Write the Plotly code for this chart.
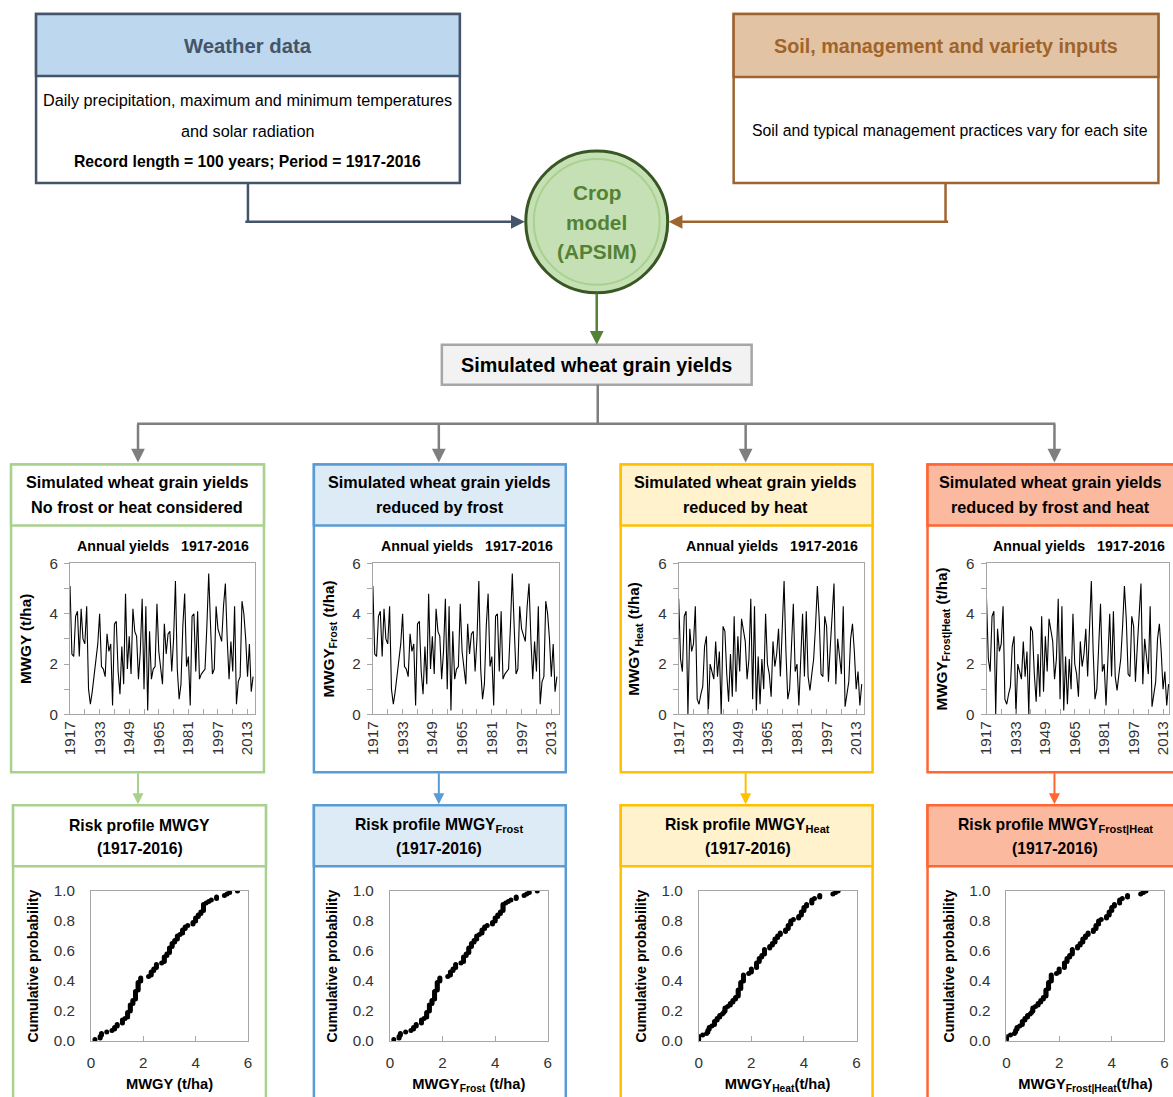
import plotly.graph_objects as go

W, H = 1173, 1097
FONT = "Liberation Sans, Arial, sans-serif"

years = list(range(1917, 2017))
yield_base = [5.1, 2.4, 2.3, 3.9, 4.1, 2.3, 4.2, 3.0, 2.8, 4.3,
              1.0, 0.4, 0.9, 1.5, 2.2, 2.8, 4.0, 1.9, 1.8, 1.5,
              3.2, 2.5, 2.8, 0.35, 3.6, 3.7, 1.7, 0.8, 2.7, 1.2,
              4.8, 1.8, 3.1, 1.6, 4.2, 3.3, 3.1, 1.4, 2.5, 4.6,
              1.0, 4.3, 0.15, 3.3, 1.4, 1.8, 1.9, 4.4, 2.5, 1.7,
              1.2, 3.6, 2.4, 3.2, 3.3, 1.7, 3.0, 5.3, 1.8, 0.6,
              1.2, 3.5, 4.8, 1.9, 2.3, 0.35, 3.9, 4.0, 1.7, 4.1,
              1.4, 1.6, 1.7, 1.8, 3.5, 5.6, 3.5, 1.6, 1.8, 4.3,
              3.4, 3.1, 2.9, 4.3, 5.2, 3.0, 1.4, 2.9, 1.7, 4.3,
              0.4, 1.3, 1.5, 4.5, 4.0, 3.0, 1.5, 2.8, 0.9, 1.5]
yield_heat = [4.6, 2.2, 1.7, 3.9, 4.1, 0.0, 3.4, 2.5, 2.8, 4.3,
              0.6, 0.4, 0.8, 1.1, 2.7, 3.1, 0.0, 2.0, 1.7, 1.4,
              2.9, 1.5, 2.5, 0.0, 3.5, 3.3, 1.6, 0.5, 2.4, 0.7,
              3.9, 0.9, 3.1, 1.7, 3.8, 3.4, 2.9, 1.4, 2.2, 4.6,
              0.6, 4.3, 0.15, 2.3, 0.4, 2.2, 1.0, 4.0, 2.0, 1.6,
              0.7, 2.9, 1.9, 2.4, 3.4, 1.5, 3.3, 5.3, 2.5, 0.6,
              1.0, 2.8, 4.4, 1.7, 2.0, 0.35, 2.3, 4.0, 1.5, 4.1,
              1.5, 0.95, 1.6, 2.2, 3.5, 5.1, 3.8, 1.6, 1.5, 3.9,
              3.5, 1.3, 2.7, 4.0, 5.2, 1.2, 3.0, 2.3, 1.6, 4.3,
              0.3, 0.8, 1.3, 3.0, 3.6, 2.5, 1.0, 1.7, 0.35, 1.2]
# scenario series: no frost/heat, frost, heat, frost|heat
series = [yield_base, yield_base, yield_heat, yield_heat]
subs = ["", "<sub>Frost</sub>", "<sub>Heat</sub>", "<sub>Frost|Heat</sub>"]
col_titles = [["Simulated wheat grain yields", "No frost or heat considered"],
              ["Simulated wheat grain yields", "reduced by frost"],
              ["Simulated wheat grain yields", "reduced by heat"],
              ["Simulated wheat grain yields", "reduced by frost and heat"]]
year_ticks = list(range(1917, 2017, 16))
prob_ticks = [0.0, 0.2, 0.4, 0.6, 0.8, 1.0]

# page -> figure coordinate mapping (page is shown with an 8px body margin, then scaled)
SX, SY, OFF = 0.9895, 1097 / 1113, 8
def fx(p): return p / SX - OFF
def fy(p): return p / SY - OFF
def X(p): return fx(p) / W
def Y(p): return 1 - fy(p) / H
def fs(s): return s / SY

fig = go.Figure()
shapes = []
ann = []

def rect(x0, y0, x1, y1, line, fill="white", lw=2):
    shapes.append(dict(type="rect", xref="paper", yref="paper", x0=X(x0), x1=X(x1),
                       y0=Y(y1), y1=Y(y0), line=dict(color=line, width=lw), fillcolor=fill, layer="below"))

def line(x0, y0, x1, y1, color, lw=2):
    shapes.append(dict(type="line", xref="paper", yref="paper", x0=X(x0), x1=X(x1),
                       y0=Y(y0), y1=Y(y1), line=dict(color=color, width=lw)))

def arrow(x0, y0, x1, y1, color, lw=2):
    ann.append(dict(x=X(x1), y=Y(y1), ax=fx(x0) - fx(x1), ay=fy(y0) - fy(y1), xref="paper", yref="paper",
                    axref="pixel", ayref="pixel", showarrow=True, arrowhead=2, arrowsize=1.1,
                    arrowwidth=lw, arrowcolor=color, text=""))

def text(x, y, s, size, color="black", bold=False, xanchor="center"):
    if bold:
        s = "<b>" + s + "</b>"
    ann.append(dict(x=X(x), y=Y(y), xref="paper", yref="paper", text=s, showarrow=False,
                    xanchor=xanchor, yanchor="middle", font=dict(family=FONT, size=fs(size), color=color)))

def dom(p0, p1, r0, r1):
    # horizontal domain with clamping; range end adjusted to keep the same scale
    a, b = X(p0), X(p1)
    if b > 1:
        r1 = r0 + (r1 - r0) * (1 - a) / (b - a)
        b = 1
    return [max(a, 0), b], [r0, r1]

# Weather box
rect(35, 13, 459, 182, "#44546A", "white", 2.5)
rect(35, 13, 459, 75, "#44546A", "#BDD7EE", 2.5)
text(247, 45, "Weather data", 20, "#44546A", True)
text(247, 99, "Daily precipitation, maximum and minimum temperatures", 16)
text(247, 130, "and solar radiation", 16)
text(247, 161, "Record length = 100 years; Period = 1917-2016", 15.5, bold=True)

# Soil box
rect(733, 13, 1158, 182, "#9E6430", "white", 2.5)
rect(733, 13, 1158, 76, "#9E6430", "#E2C3A3", 2.5)
text(945, 45, "Soil, management and variety inputs", 19.5, "#A0642A", True)
text(949, 130, "Soil and typical management practices vary for each site", 15.6)

# connectors to crop model
line(247, 182, 247, 221, "#44546A", 2.5)
arrow(246, 221, 524, 221, "#44546A", 2.5)
line(945, 182, 945, 221, "#9E6430", 2.5)
arrow(946, 221, 668, 221, "#9E6430", 2.5)

# circle
cx, cy, r = 596, 221, 71
shapes.append(dict(type="circle", xref="paper", yref="paper", x0=X(cx - r), x1=X(cx + r),
                   y0=Y(cy + r), y1=Y(cy - r), line=dict(color="#385723", width=3), fillcolor="#C5E0B4"))
r2 = 63
shapes.append(dict(type="circle", xref="paper", yref="paper", x0=X(cx - r2), x1=X(cx + r2),
                   y0=Y(cy + r2), y1=Y(cy - r2), line=dict(color="#A9D18E", width=2), fillcolor="rgba(0,0,0,0)"))
text(596, 192, "Crop", 20.5, "#548235", True)
text(596, 222, "model", 20.5, "#548235", True)
text(596, 251, "(APSIM)", 20.5, "#548235", True)
arrow(596, 292, 596, 344, "#548235", 2.5)

# simulated yields box
rect(441, 344, 751, 384, "#A6A6A6", "#F2F2F2", 2.5)
text(596, 364, "Simulated wheat grain yields", 19.5, bold=True)
line(597, 384, 597, 423, "#7F7F7F", 2.5)
line(136, 423, 1055, 423, "#7F7F7F", 2.5)

col_left = [10, 313, 620, 927]
col_right = [263, 565, 872, 1190]
risk_left = [12, 313, 620, 927]
risk_right = [265, 565, 872, 1190]
col_arrow_x = [137, 438, 745, 1054]
borders = ["#A9D18E", "#5B9BD5", "#FFC000", "#FF6633"]
fills = ["white", "#DDEBF7", "#FFF2CC", "#FBB9A0"]
ts_x = [(69, 254), (372, 558), (678, 863), (986, 1170)]
cdf_x = [(90, 247), (389, 547), (698, 856), (1006, 1164)]
head_c = [136, 439, 745, 1050]

layout_axes = {}
for i in range(4):
    L, R = col_left[i], col_right[i]
    ax_x = col_arrow_x[i]
    arrow(ax_x, 423, ax_x, 462, "#7F7F7F", 2.5)
    rect(L, 464, R, 772, borders[i], "white", 2.5)
    rect(L, 464, R, 525, borders[i], fills[i], 2.5)
    text(head_c[i], 481, col_titles[i][0], 16, bold=True)
    text(head_c[i], 506, col_titles[i][1], 16, bold=True)
    text((ts_x[i][0] + ts_x[i][1]) / 2 + 1, 545, "Annual yields&nbsp;&nbsp;&nbsp;1917-2016", 14, bold=True)
    arrow(ax_x, 772, ax_x, 804, borders[i], 2)
    rL, rR = risk_left[i], risk_right[i]
    rect(rL, 805, rR, 1110, borders[i], "white", 2.5)
    rect(rL, 805, rR, 866, borders[i], fills[i], 2.5)
    rc = (cdf_x[i][0] + cdf_x[i][1]) / 2 - 30
    text(rc, 825, "Risk profile MWGY" + subs[i], 15.5, bold=True)
    text(rc, 848, "(1917-2016)", 15.5, bold=True)

    vals = series[i]
    xa, ya = f"x{2*i+1}", f"y{2*i+1}"
    fig.add_trace(go.Scatter(x=years, y=vals, mode="lines", line=dict(color="black", width=1.1),
                             xaxis=xa, yaxis=ya, showlegend=False, hoverinfo="skip"))
    srt = sorted(vals)
    n = len(srt)
    prob = [(k + 1) / n for k in range(n)]
    xb, yb = f"x{2*i+2}", f"y{2*i+2}"
    fig.add_trace(go.Scatter(x=srt, y=prob, mode="markers", marker=dict(color="black", size=5),
                             xaxis=xb, yaxis=yb, showlegend=False, hoverinfo="skip"))

    axcommon = dict(showgrid=False, zeroline=False, showline=True, linecolor="#A6A6A6", linewidth=1,
                    mirror=True, tickcolor="#A6A6A6", ticklabeloverflow="allow",
                    tickfont=dict(family=FONT, size=fs(15), color="#333333"))
    d1, r1 = dom(ts_x[i][0], ts_x[i][1], 1917, 2017)
    layout_axes[f"xaxis{2*i+1}"] = dict(domain=d1, anchor=f"y{2*i+1}",
                                        range=r1, tickmode="array", tickvals=year_ticks,
                                        tickangle=-90, ticks="inside", ticklen=5,
                                        minor=dict(dtick=8, tick0=1917, ticks="inside", ticklen=5, tickcolor="#A6A6A6"),
                                        **axcommon)
    layout_axes[f"yaxis{2*i+1}"] = dict(domain=[Y(714), Y(563)], anchor=f"x{2*i+1}", range=[0, 6],
                                        dtick=2, ticks="outside", ticklen=5, ticklabelstandoff=3,
                                        minor=dict(dtick=1, ticks="outside", ticklen=5, tickcolor="#A6A6A6"),
                                        title=dict(text="<b>MWGY" + subs[i] + " (t/ha)</b>",
                                                   font=dict(family=FONT, size=fs(15), color="black"), standoff=14),
                                        **axcommon)
    xt = "<b>MWGY" + subs[i] + (" (t/ha)" if i < 2 else "(t/ha)") + "</b>"
    d2, r2x = dom(cdf_x[i][0], cdf_x[i][1], 0, 6)
    layout_axes[f"xaxis{2*i+2}"] = dict(domain=d2, anchor=f"y{2*i+2}",
                                        range=r2x, dtick=2, ticks="inside", ticklen=5, ticklabelstandoff=8,
                                        title=dict(text=xt, font=dict(family=FONT, size=fs(14.5), color="black"), standoff=8),
                                        **axcommon)
    layout_axes[f"yaxis{2*i+2}"] = dict(domain=[Y(1041), Y(891)], anchor=f"x{2*i+2}", range=[0, 1.0],
                                        tickmode="array", tickvals=prob_ticks, tickformat=".1f",
                                        ticks="", ticklabelstandoff=12,
                                        title=dict(text="<b>Cumulative probability</b>",
                                                   font=dict(family=FONT, size=fs(14), color="black"), standoff=11),
                                        **axcommon)

fig.update_layout(width=W, height=H, margin=dict(l=0, r=0, t=0, b=0),
                  paper_bgcolor="white", plot_bgcolor="white",
                  shapes=shapes, annotations=ann, **layout_axes)
fig.write_html("out.html")
